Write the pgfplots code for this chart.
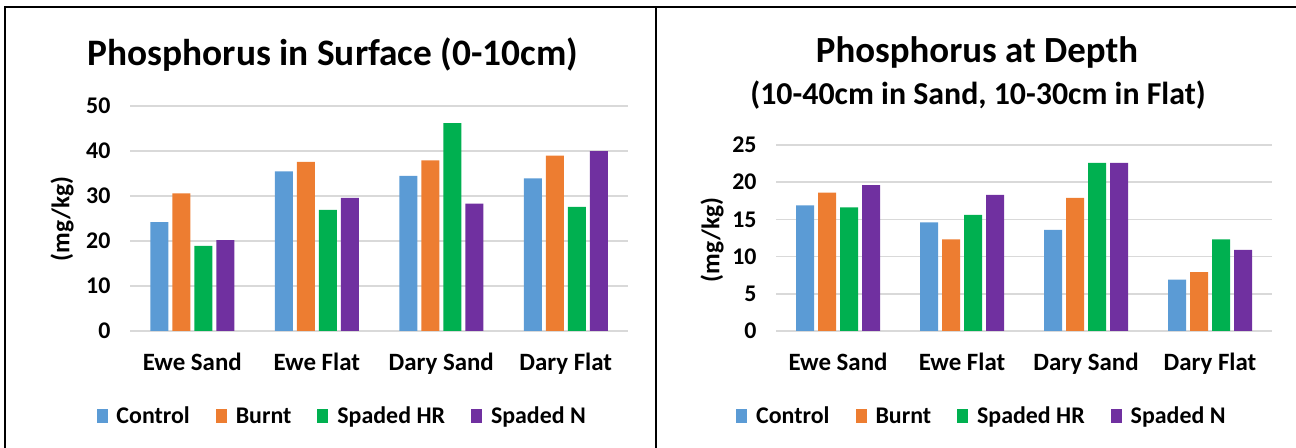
\documentclass[border=0pt]{standalone}
\usepackage{fontspec}
\setmainfont{Carlito}
\usepackage{pgfplots}
\pgfplotsset{compat=1.18}
\definecolor{cC}{HTML}{5B9BD5}
\definecolor{cB}{HTML}{ED7D31}
\definecolor{cH}{HTML}{00B050}
\definecolor{cN}{HTML}{7030A0}
\definecolor{gridgray}{HTML}{D9D9D9}
\newcommand{\fs}{\fontsize{24}{28}\selectfont\bfseries}
\newcommand{\fx}{\fontsize{25}{29}\selectfont\bfseries}
\pgfplotsset{
  mybar/.style={
    scale only axis,
    ybar=4bp, bar width=18bp,
    xmin=-0.5, xmax=3.5, ymin=0,
    xtick={0,1,2,3},
    xticklabels={Ewe Sand, Ewe Flat, Dary Sand, Dary Flat},
    major tick length=0pt,
    axis line style={draw=none},
    ymajorgrids, grid style={color=gridgray, line width=1.6bp},
    /pgf/number format/assume math mode=true,
    xticklabel style={font=\fx, anchor=base, yshift=-39bp},
    yticklabel style={font=\fs, anchor=east, xshift=-16bp},
    legend columns=4,
    legend style={draw=none, fill=none, font=\fs, anchor=center,
      /tikz/every odd column/.append style={column sep=7bp},
      /tikz/every even column/.append style={column sep=24bp}},
    legend image code/.code={\fill[##1] (0bp,-7bp) rectangle (11bp,7bp);},
    every axis plot/.append style={draw=none},
  }
}
\begin{document}
\begin{tikzpicture}
\path[use as bounding box] (0,0) rectangle (1296bp,448bp);
\draw[line width=2bp] (5bp,0) -- (5bp,440.5bp) -- (1296bp,440.5bp);
\draw[line width=2bp] (656bp,0) -- (656bp,440.5bp);
\begin{axis}[mybar, at={(130bp,117bp)}, anchor=south west,
  width=498bp, height=225bp, ymax=50, ytick={0,10,20,30,40,50},
  legend style={at={(0.426,-0.378)}}]
\addplot[fill=cC] coordinates {(0,24.2) (1,35.5) (2,34.5) (3,33.9)};
\addplot[fill=cB] coordinates {(0,30.6) (1,37.6) (2,37.9) (3,39.0)};
\addplot[fill=cH] coordinates {(0,18.9) (1,26.9) (2,46.2) (3,27.6)};
\addplot[fill=cN] coordinates {(0,20.2) (1,29.6) (2,28.3) (3,40.0)};
\legend{Control, Burnt, Spaded HR, Spaded N}
\end{axis}
\begin{axis}[mybar, at={(776bp,117bp)}, anchor=south west,
  width=496bp, height=186bp, ymax=25, ytick={0,5,10,15,20,25},
  legend style={at={(0.415,-0.457)}}]
\addplot[fill=cC] coordinates {(0,16.9) (1,14.6) (2,13.6) (3,6.9)};
\addplot[fill=cB] coordinates {(0,18.6) (1,12.3) (2,17.9) (3,7.9)};
\addplot[fill=cH] coordinates {(0,16.6) (1,15.6) (2,22.6) (3,12.3)};
\addplot[fill=cN] coordinates {(0,19.6) (1,18.3) (2,22.6) (3,10.9)};
\legend{Control, Burnt, Spaded HR, Spaded N}
\end{axis}
\node[rotate=90, font=\fontsize{25.5}{29}\selectfont\bfseries] at (62bp,229bp) {(mg/kg)};
\node[rotate=90, font=\fontsize{25.5}{29}\selectfont\bfseries] at (712bp,208bp) {(mg/kg)};
\node[font=\fontsize{37.5}{42}\selectfont\bfseries] at (333bp,393bp) {Phosphorus in Surface (0-10cm)};
\node[font=\fontsize{37}{42}\selectfont\bfseries] at (977bp,396bp) {Phosphorus at Depth};
\node[font=\fontsize{32}{36}\selectfont\bfseries] at (978bp,353bp) {(10-40cm in Sand, 10-30cm in Flat)};
\end{tikzpicture}
\end{document}
